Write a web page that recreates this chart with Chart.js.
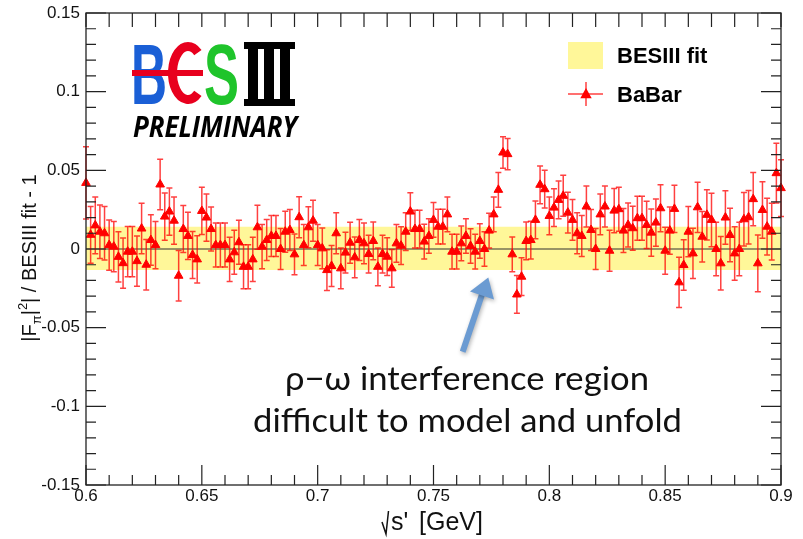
<!DOCTYPE html>
<html>
<head>
<meta charset="utf-8">
<script src="https://cdn.jsdelivr.net/npm/chart.js@4.4.0/dist/chart.umd.min.js"></script>
<style>
body { margin: 0; background: #fff; }
#wrap { width: 803px; height: 539px; position: relative; }
</style>
</head>
<body>
<div id="wrap"><canvas id="chart" width="803" height="539"></canvas></div>
<script>
// sqrt(s') bins of the BaBar points [GeV]
const energies = [
  0.600, 0.602, 0.604, 0.606, 0.608, 0.610, 0.612, 0.614, 0.616, 0.618,
  0.620, 0.622, 0.624, 0.626, 0.628, 0.630, 0.632, 0.634, 0.636, 0.638,
  0.640, 0.642, 0.644, 0.646, 0.648, 0.650, 0.652, 0.654, 0.656, 0.658,
  0.660, 0.662, 0.664, 0.666, 0.668, 0.670, 0.672, 0.674, 0.676, 0.678,
  0.680, 0.682, 0.684, 0.686, 0.688, 0.690, 0.692, 0.694, 0.696, 0.698,
  0.700, 0.702, 0.704, 0.706, 0.708, 0.710, 0.712, 0.714, 0.716, 0.718,
  0.720, 0.722, 0.724, 0.726, 0.728, 0.730, 0.732, 0.734, 0.736, 0.738,
  0.740, 0.742, 0.744, 0.746, 0.748, 0.750, 0.752, 0.754, 0.756, 0.758,
  0.760, 0.762, 0.764, 0.766, 0.768, 0.770, 0.772, 0.774, 0.776, 0.778,
  0.780, 0.782, 0.784, 0.786, 0.788, 0.790, 0.792, 0.794, 0.796, 0.798,
  0.800, 0.802, 0.804, 0.806, 0.808, 0.810, 0.812, 0.814, 0.816, 0.818,
  0.820, 0.822, 0.824, 0.826, 0.828, 0.830, 0.832, 0.834, 0.836, 0.838,
  0.840, 0.842, 0.844, 0.846, 0.848, 0.850, 0.852, 0.854, 0.856, 0.858,
  0.860, 0.862, 0.864, 0.866, 0.868, 0.870, 0.872, 0.874, 0.876, 0.878,
  0.880, 0.882, 0.884, 0.886, 0.888, 0.890, 0.892, 0.894, 0.896, 0.898,
  0.900
];

// |F_pi|^2 (BaBar) / BESIII fit - 1
const ratio = [
  0.042, 0.009, 0.015, 0.011, 0.010, 0.0025, 0.0015, -0.005, -0.009, -0.0017,
  -0.0017, -0.0077, 0.013, -0.010, 0.0057, 0.0025, 0.041, 0.0206, 0.0238, 0.018,
  -0.017, 0.0127, 0.0083, -0.0038, -0.0066, 0.0242, 0.020, 0.0127, 0.0025, 0.0025,
  0.0025, -0.0066, -0.0021, 0.0043, -0.0113, -0.0113, -0.0066, 0.0138, 0.0015, 0.0057,
  0.0083, 0.0083, 0.0, 0.011, 0.0121, -0.0034, 0.0202, 0.0025, 0.0138, 0.018,
  0.0025, 0.0004, -0.0134, -0.0108, 0.010, -0.0123, -0.0023, 0.004, -0.0053, 0.0057,
  0.0036, -0.0032, 0.0051, -0.0113, -0.0032, -0.0049, -0.0123, 0.0036, 0.0021, 0.011,
  0.0238, 0.0127, 0.0127, 0.0047, 0.0083, 0.0185, 0.0142, 0.0142, 0.022, -0.0017,
  -0.0017, 0.0036, 0.0083, 0.0019, -0.0017, 0.0051, 0.0, 0.0117, 0.022, 0.0376,
  0.0613, 0.0603, -0.0034, -0.0289, -0.0176, 0.0051, 0.0057, 0.0185, 0.0408, 0.038,
  0.021, 0.0263, 0.0312, 0.0338, 0.0231, 0.0185, 0.010, 0.0083, 0.027, 0.0121,
  0.0, 0.022, 0.027, -0.0011, 0.0244, 0.0253, 0.0117, 0.0153, 0.0132, 0.0196,
  0.0196, 0.0153, 0.0104, 0.0168, 0.0259, -0.0011, 0.0117, 0.0255, -0.0212, -0.0102,
  0.011, -0.0028, 0.0265, 0.0078, 0.0217, 0.0185, 0.0, -0.0091, 0.020, 0.0089,
  -0.0028, 0.0, 0.0189, 0.0202, 0.0317, -0.0091, 0.0248, 0.0142, 0.011, 0.0482,
  0.0387
];

const ratioErr = [
  0.023, 0.018, 0.018, 0.017, 0.017, 0.016, 0.016, 0.016, 0.016, 0.016,
  0.016, 0.016, 0.016, 0.016, 0.016, 0.015, 0.016, 0.015, 0.015, 0.015,
  0.016, 0.015, 0.015, 0.015, 0.015, 0.015, 0.015, 0.014, 0.014, 0.014,
  0.014, 0.014, 0.014, 0.014, 0.014, 0.014, 0.014, 0.014, 0.014, 0.013,
  0.013, 0.013, 0.013, 0.013, 0.013, 0.013, 0.013, 0.013, 0.013, 0.013,
  0.013, 0.013, 0.013, 0.013, 0.013, 0.013, 0.013, 0.013, 0.013, 0.013,
  0.013, 0.012, 0.012, 0.012, 0.012, 0.012, 0.012, 0.012, 0.012, 0.012,
  0.012, 0.012, 0.012, 0.011, 0.011, 0.011, 0.011, 0.011, 0.011, 0.011,
  0.011, 0.011, 0.011, 0.011, 0.011, 0.011, 0.011, 0.011, 0.011, 0.011,
  0.010, 0.010, 0.011, 0.012, 0.012, 0.012, 0.012, 0.012, 0.012, 0.012,
  0.012, 0.012, 0.012, 0.013, 0.013, 0.013, 0.013, 0.013, 0.013, 0.013,
  0.013, 0.013, 0.013, 0.013, 0.014, 0.014, 0.014, 0.014, 0.014, 0.014,
  0.014, 0.015, 0.015, 0.015, 0.015, 0.015, 0.015, 0.015, 0.016, 0.016,
  0.016, 0.016, 0.016, 0.016, 0.016, 0.017, 0.017, 0.017, 0.017, 0.017,
  0.017, 0.017, 0.017, 0.017, 0.017, 0.018, 0.018, 0.018, 0.018, 0.019,
  0.018
];

// BESIII fit uncertainty band
const bandX = [0.6, 0.9];
const bandHigh = [0.0142, 0.0142];
const bandLow = [-0.0134, -0.0134];

const xTickValues = [0.6, 0.65, 0.7, 0.75, 0.8, 0.85, 0.9];
const xTickLabels = ['0.6', '0.65', '0.7', '0.75', '0.8', '0.85', '0.9'];
const yTickValues = [0.15, 0.1, 0.05, 0, -0.05, -0.1, -0.15];
const yTickLabels = ['0.15', '0.1', '0.05', '0', '-0.05', '-0.1', '-0.15'];

const RED = '#ff0000';
const BAR_RED = 'rgba(255,0,0,0.75)';
const YELLOW = '#fff799';
const SANS = '"Liberation Sans", Arial, Helvetica, sans-serif';

function fitText(ctx, text, x, y, width, align) {
  const w = ctx.measureText(text).width;
  const sx = width / w;
  ctx.save();
  if (align === 'center') ctx.translate(x - width / 2, y);
  else ctx.translate(x, y);
  ctx.scale(sx, 1);
  ctx.textAlign = 'left';
  ctx.fillText(text, 0, 0);
  ctx.restore();
}

function drawTriangle(ctx, cx, cy, r) {
  ctx.beginPath();
  ctx.moveTo(cx, cy - r);
  ctx.lineTo(cx + r * 0.95, cy + r * 0.7);
  ctx.lineTo(cx - r * 0.95, cy + r * 0.7);
  ctx.closePath();
  ctx.fill();
}

function drawLogo(ctx) {
  ctx.save();
  ctx.textBaseline = 'alphabetic';
  ctx.font = 'bold 86px ' + SANS;
  // B
  ctx.fillStyle = '#1a5fd6';
  fitText(ctx, 'B', 131, 104, 36);
  // S
  ctx.fillStyle = '#1fc42b';
  fitText(ctx, 'S', 204, 104, 35);
  // E drawn as a red C with a bar through the B
  ctx.strokeStyle = '#e8001e';
  ctx.lineWidth = 9;
  ctx.beginPath();
  ctx.ellipse(188, 73, 15.5, 26.5, 0, 0.28 * Math.PI, 1.72 * Math.PI);
  ctx.stroke();
  ctx.fillStyle = '#e8001e';
  ctx.fillRect(132, 70, 71, 6);
  // III
  ctx.fillStyle = '#000';
  ctx.fillRect(244, 42, 51, 7);
  ctx.fillRect(244, 99, 51, 7);
  ctx.fillRect(248, 42, 10, 64);
  ctx.fillRect(264, 42, 10, 64);
  ctx.fillRect(280, 42, 10, 64);
  // PRELIMINARY
  ctx.fillStyle = '#000';
  ctx.font = 'italic bold 28px "Open Sans", ' + SANS;
  fitText(ctx, 'PRELIMINARY', 133, 137, 164);
  ctx.restore();
}

const decor = {
  id: 'decor',
  beforeDatasetDraw(chart, args) {
    if (chart.data.datasets[args.index].label !== 'BaBar') return;
    const { ctx, scales: { x, y } } = chart;
    ctx.save();
    ctx.strokeStyle = BAR_RED;
    ctx.lineWidth = 1.5;
    energies.forEach((e, i) => {
      const px = x.getPixelForValue(e);
      const top = y.getPixelForValue(ratio[i] + ratioErr[i]);
      const bot = y.getPixelForValue(ratio[i] - ratioErr[i]);
      ctx.beginPath();
      ctx.moveTo(px, top); ctx.lineTo(px, bot);
      ctx.moveTo(px - 3, top); ctx.lineTo(px + 3, top);
      ctx.moveTo(px - 3, bot); ctx.lineTo(px + 3, bot);
      ctx.stroke();
    });
    ctx.restore();
  },
  afterDraw(chart) {
    const { ctx, chartArea: a, scales: { x, y } } = chart;
    ctx.save();

    // frame
    ctx.strokeStyle = '#222';
    ctx.lineWidth = 1.3;
    ctx.strokeRect(a.left, a.top, a.right - a.left, a.bottom - a.top);

    // ticks, ROOT style (inside)
    ctx.lineWidth = 1.2;
    ctx.beginPath();
    for (let v = -150; v <= 150; v += 10) {
      const py = y.getPixelForValue(v / 1000);
      const len = v % 50 === 0 ? 20 : 10;
      ctx.moveTo(a.left, py); ctx.lineTo(a.left + len, py);
      ctx.moveTo(a.right, py); ctx.lineTo(a.right - len, py);
    }
    for (let v = 600; v <= 900; v += 10) {
      const px = x.getPixelForValue(v / 1000);
      const len = v % 50 === 0 ? 20 : 10;
      ctx.moveTo(px, a.bottom); ctx.lineTo(px, a.bottom - len);
      ctx.moveTo(px, a.top); ctx.lineTo(px, a.top + 14);
    }
    ctx.stroke();

    // tick labels
    ctx.fillStyle = '#111';
    ctx.font = '17px ' + SANS;
    ctx.textAlign = 'right';
    ctx.textBaseline = 'middle';
    yTickValues.forEach((v, i) => {
      ctx.fillText(yTickLabels[i], 80, y.getPixelForValue(v));
    });
    ctx.textAlign = 'center';
    xTickValues.forEach((v, i) => {
      ctx.fillText(xTickLabels[i], x.getPixelForValue(v), 496);
    });

    // x title: sqrt(s') [GeV]
    ctx.textBaseline = 'alphabetic';
    ctx.textAlign = 'left';
    ctx.font = '25px ' + SANS;
    ctx.fillText("s'", 391, 530);
    ctx.fillText('[GeV]', 419, 530);
    ctx.strokeStyle = '#111';
    ctx.lineWidth = 1.5;
    ctx.beginPath();
    ctx.moveTo(382, 522); ctx.lineTo(386, 534); ctx.lineTo(388.5, 511);
    ctx.stroke();

    // y title: |F_pi|^2| / BESIII fit - 1
    ctx.save();
    ctx.translate(36, 258);
    ctx.rotate(-Math.PI / 2);
    const big = '20px ' + SANS, small = '13px ' + SANS;
    const parts = [
      ['|F', big, 0], ['\u03c0', small, 5], ['|', big, 0], ['2', small, -9],
      ['| / BESIII fit - 1', big, 0]
    ];
    let total = 0;
    parts.forEach(p => { ctx.font = p[1]; total += ctx.measureText(p[0]).width; });
    let cx = -total / 2;
    parts.forEach(p => {
      ctx.font = p[1];
      ctx.fillText(p[0], cx, p[2]);
      cx += ctx.measureText(p[0]).width;
    });
    ctx.restore();

    // legend
    ctx.fillStyle = YELLOW;
    ctx.fillRect(568, 42, 35, 27);
    ctx.strokeStyle = BAR_RED;
    ctx.lineWidth = 1.5;
    ctx.beginPath();
    ctx.moveTo(568, 94); ctx.lineTo(603, 94);
    ctx.moveTo(586, 82); ctx.lineTo(586, 106);
    ctx.stroke();
    ctx.fillStyle = RED;
    drawTriangle(ctx, 586, 94, 6);
    ctx.fillStyle = '#000';
    ctx.font = 'bold 22px ' + SANS;
    ctx.fillText('BESIII fit', 617, 63);
    ctx.fillText('BaBar', 617, 102);

    drawLogo(ctx);

    // annotation
    ctx.fillStyle = '#111';
    ctx.font = '32px Lato, "Open Sans", ' + SANS;
    fitText(ctx, '\u03c1\u2212\u03c9 interference region', 467, 390, 364, 'center');
    fitText(ctx, 'difficult to model and unfold', 467.5, 432, 429, 'center');

    // arrow
    ctx.save();
    ctx.shadowColor = 'rgba(0,0,0,0.3)';
    ctx.shadowBlur = 4;
    ctx.shadowOffsetX = 1;
    ctx.shadowOffsetY = 2;
    ctx.strokeStyle = '#6b9bd2';
    ctx.fillStyle = '#6b9bd2';
    ctx.lineWidth = 6;
    ctx.beginPath();
    ctx.moveTo(462.7, 351.7); ctx.lineTo(482.5, 293);
    ctx.stroke();
    ctx.beginPath();
    ctx.moveTo(488.3, 277.5);
    ctx.lineTo(494, 299.5);
    ctx.lineTo(470, 291.5);
    ctx.closePath();
    ctx.fill();
    ctx.restore();

    ctx.restore();
  }
};

const ctx = document.getElementById('chart');
new Chart(ctx, {
  type: 'scatter',
  data: {
    datasets: [
      {
        type: 'line', label: 'bandLow', order: 3,
        data: bandX.map((v, i) => ({ x: v, y: bandLow[i] })),
        borderWidth: 0, pointRadius: 0, fill: false
      },
      {
        type: 'line', label: 'BESIII fit', order: 2,
        data: bandX.map((v, i) => ({ x: v, y: bandHigh[i] })),
        borderWidth: 0, pointRadius: 0, fill: '-1', backgroundColor: YELLOW
      },
      {
        type: 'line', label: 'zero', order: 1,
        data: [{ x: 0.6, y: 0 }, { x: 0.9, y: 0 }],
        borderColor: '#333', borderWidth: 1.2, pointRadius: 0, fill: false
      },
      {
        label: 'BaBar', order: 0,
        data: energies.map((v, i) => ({ x: v, y: ratio[i] })),
        pointStyle: 'triangle', pointRadius: 5, pointHoverRadius: 5,
        backgroundColor: RED, borderColor: RED, borderWidth: 1, clip: false
      }
    ]
  },
  options: {
    responsive: false,
    animation: false,
    devicePixelRatio: 1,
    layout: { padding: { left: 86, right: 22, top: 13, bottom: 54 } },
    scales: {
      x: { type: 'linear', min: 0.6, max: 0.9, display: false },
      y: { type: 'linear', min: -0.15, max: 0.15, display: false }
    },
    plugins: {
      legend: { display: false },
      tooltip: { enabled: false }
    }
  },
  plugins: [decor]
});
</script>
</body>
</html>
